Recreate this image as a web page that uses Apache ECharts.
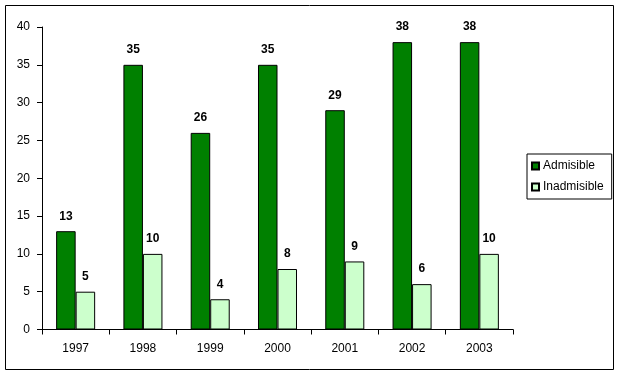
<!DOCTYPE html>
<html><head><meta charset="utf-8">
<script src="https://cdn.jsdelivr.net/npm/echarts@6/dist/echarts.min.js"></script>
<style>html,body{margin:0;padding:0;background:#fff}#c{width:620px;height:375px}</style>
</head><body><div id="c"></div>
<script>
var categories = ['1997','1998','1999','2000','2001','2002','2003'];
var admisible = [13,35,26,35,29,38,38];
var inadmisible = [5,10,4,8,9,6,10];
var yTicks = [0,5,10,15,20,25,30,35,40];

var chart = echarts.init(document.getElementById('c'), null, {renderer:'canvas'});
var font = 'Liberation Sans, Arial, sans-serif';
chart.setOption({
  animation:false,
  textStyle:{fontFamily:font},
  graphic:[{type:'rect',shape:{x:5.5,y:5.5,width:608,height:364},style:{fill:'none',stroke:'#000',lineWidth:1},z:-1}],
  grid:{left:42,right:107,top:27,bottom:45.5},
  legend:{
    orient:'vertical',left:527,top:154,
    data:['Admisible','Inadmisible'],
    icon:'rect',
    itemWidth:7,itemHeight:7,itemGap:9,
    padding:[6,8,6,4],
    borderColor:'#000',borderWidth:1,
    textStyle:{fontFamily:font,fontSize:12,color:'#000',padding:[0,0,0,-1]}
  },
  xAxis:{
    type:'category',data:categories,
    axisLine:{lineStyle:{color:'#000'}},
    axisTick:{show:true,alignWithLabel:false,length:5,inside:false,lineStyle:{color:'#000'}},
    axisLabel:{color:'#000',fontSize:12,fontFamily:font,margin:13},
    splitLine:{show:false}
  },
  yAxis:{
    type:'value',min:yTicks[0],max:yTicks[yTicks.length-1],interval:5,
    axisLine:{show:true,lineStyle:{color:'#000'}},
    axisTick:{show:true,length:5,lineStyle:{color:'#000'}},
    axisLabel:{color:'#000',fontSize:12,fontFamily:font,margin:12},
    splitLine:{show:false}
  },
  series:[
    {name:'Admisible',type:'bar',data:admisible,barGap:'0%',barCategoryGap:'42%',
     itemStyle:{color:'#008000',borderColor:'#000',borderWidth:1},
     label:{show:true,position:'top',distance:9,color:'#000',fontWeight:'bold',fontSize:12,fontFamily:font}},
    {name:'Inadmisible',type:'bar',data:inadmisible,
     itemStyle:{color:'#ccffcc',borderColor:'#000',borderWidth:1},
     label:{show:true,position:'top',distance:9,color:'#000',fontWeight:'bold',fontSize:12,fontFamily:font}}
  ]
});
</script></body></html>
